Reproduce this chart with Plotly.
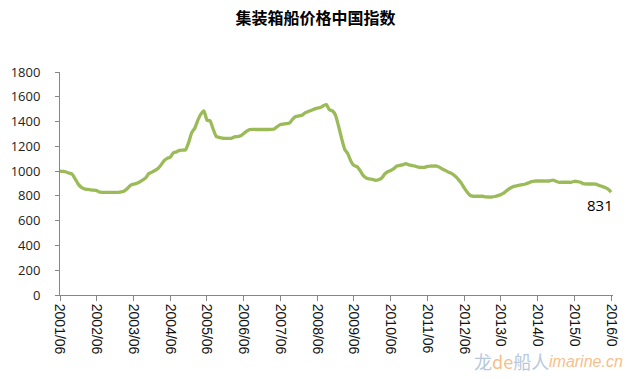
import plotly.graph_objects as go

values = [1000, 998, 993, 983, 975, 935, 893, 868, 856, 852, 848, 846, 842, 830, 829, 829, 829, 829, 829, 829,
          832, 840, 860, 885, 895, 901, 912, 928, 945, 980, 992, 1005, 1022, 1050, 1085, 1103, 1112, 1148, 1155, 1168,
          1170, 1172, 1230, 1310, 1345, 1410, 1460, 1486, 1411, 1406, 1340, 1280, 1272, 1266, 1264, 1264, 1265, 1277, 1279, 1285,
          1304, 1322, 1336, 1337, 1336, 1336, 1336, 1336, 1336, 1337, 1340, 1360, 1376, 1380, 1384, 1390, 1420, 1440, 1446, 1450,
          1470, 1480, 1490, 1500, 1508, 1513, 1528, 1537, 1495, 1486, 1450, 1360, 1260, 1175, 1140, 1080, 1045, 1036, 1005, 965,
          945, 937, 934, 926, 930, 942, 975, 995, 1005, 1020, 1041, 1046, 1052, 1060, 1050, 1045, 1040, 1032, 1030, 1030,
          1038, 1041, 1041, 1041, 1030, 1015, 1004, 990, 980, 960, 935, 905, 865, 830, 803, 797, 797, 797, 797, 792,
          791, 791, 795, 802, 812, 825, 845, 862, 875, 880, 886, 890, 896, 905, 915, 920, 920, 920, 920, 920,
          922, 928, 918, 910, 910, 910, 910, 910, 918, 915, 910, 898, 896, 896, 896, 895, 885, 877, 868, 855,
          831]
months = list(range(len(values)))

tick_positions = [0, 12, 24, 36, 48, 60, 72, 84, 96, 108, 120, 132, 144, 156, 168, 180]
tick_labels = ["2001/06", "2002/06", "2003/06", "2004/06", "2005/06", "2006/06", "2007/06", "2008/06",
               "2009/06", "2010/06", "2011/06", "2012/06", "2013/0", "2014/0", "2015/0", "2016/0"]
y_ticks = [0, 200, 400, 600, 800, 1000, 1200, 1400, 1600, 1800]

fig = go.Figure()
fig.add_trace(go.Scatter(x=months, y=values, mode="lines",
                         line=dict(color="#9BBB59", width=3.3, shape="spline", smoothing=0.4),
                         hoverinfo="skip", showlegend=False))

fig.add_annotation(x=months[-1], y=values[-1], text=str(values[-1]), showarrow=False,
                   xanchor="right", yanchor="top", xshift=4, yshift=-1,
                   font=dict(family="Open Sans, sans-serif", size=15, color="#000000"))

fig.update_layout(
    width=631, height=378,
    margin=dict(l=60, r=18, t=72, b=83, autoexpand=False),
    paper_bgcolor="white", plot_bgcolor="white",
    title=dict(text="<b>集装箱船价格中国指数</b>", x=0.5, xanchor="center", y=1 - 18 / 378, yanchor="middle",
               font=dict(family="Noto Sans CJK SC", size=16, color="#000000")),
    xaxis=dict(range=[0, 180.6], tickmode="array", tickvals=tick_positions, ticktext=tick_labels,
               tickangle=90, ticks="outside", ticklen=5, tickcolor="#868686", automargin=False,
               showline=True, linecolor="#868686", linewidth=1, showgrid=False, zeroline=False,
               tickfont=dict(family="Liberation Sans, sans-serif", size=14, color="#111111")),
    yaxis=dict(range=[0, 1800], tickmode="array", tickvals=y_ticks, automargin=False,
               showline=True, linecolor="#868686", linewidth=1, showgrid=False, zeroline=False,
               ticks="outside", ticklen=4, tickcolor="#868686", ticklabelstandoff=12,
               tickfont=dict(family="Open Sans, sans-serif", size=13, color="#222222")),
)

fig.add_annotation(xref="paper", yref="paper", x=0.745, y=-0.296, xanchor="left", yanchor="middle",
                   text="<span style='color:#b8c8da'>龙</span><span style='color:#f6c08c'>de</span><span style='color:#b8c8da'>船人</span>",
                   showarrow=False, font=dict(family="Noto Sans CJK SC", size=18))
fig.add_annotation(xref="paper", yref="paper", x=1.0217, y=-0.296, xanchor="right", yanchor="middle",
                   text="<i>imarine.cn</i>", showarrow=False,
                   font=dict(family="Liberation Sans, sans-serif", size=16, color="#f6c08c"))

fig.write_html("out.html", config={"displayModeBar": False},
               post_script="document.body.style.margin='0';document.body.style.overflow='hidden';")
